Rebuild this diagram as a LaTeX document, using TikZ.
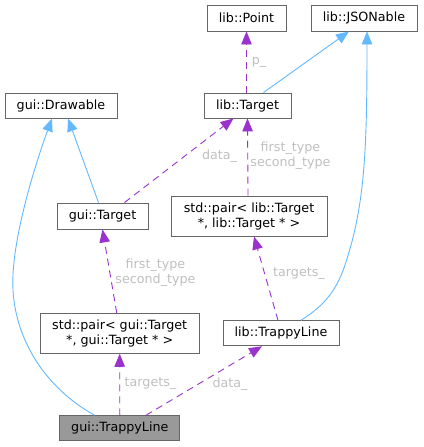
\documentclass[tikz,border=0pt]{standalone}
\usepackage{fontspec}
\setmainfont{DejaVu Sans}
\usetikzlibrary{arrows.meta}
\definecolor{edgeblue}{HTML}{63B8FF}
\definecolor{edgepurple}{HTML}{9A32CD}
\definecolor{boxborder}{HTML}{666666}
\definecolor{lblgray}{HTML}{BFBFBF}
\definecolor{curfill}{HTML}{999999}
\begin{document}
\begin{tikzpicture}[x=1pt,y=-1pt,
  cls/.style={draw=boxborder, line width=0.9pt, fill=white, inner sep=0pt,
    font=\fontsize{12.7}{15}\selectfont, align=center},
  lbl/.style={text=lblgray, inner sep=0pt, font=\fontsize{12.7}{15}\selectfont, align=center},
  inh/.style={draw=edgeblue, line width=0.9pt, -{Triangle[length=13pt,width=10.5pt]}},
  use/.style={draw=edgepurple, line width=0.9pt, dash pattern=on 7pt off 5pt,
    -{Triangle[length=13pt,width=10.5pt]}}]
\useasboundingbox (0,0) rectangle (423,447);
% nodes
\node[cls, minimum width=79pt, minimum height=26pt] (pt) at (246.5,18) {lib::Point};
\node[cls, minimum width=106pt, minimum height=26pt] (js) at (364,18) {lib::JSONable};
\node[cls, minimum width=112pt, minimum height=25pt] (gd) at (61,105.5) {gui::Drawable};
\node[cls, minimum width=87pt, minimum height=25pt] (lt) at (247.5,105.5) {lib::Target};
\node[cls, minimum width=91pt, minimum height=26pt] (gt) at (102.5,216) {gui::Target};
\node[cls, minimum width=156pt, minimum height=40pt] (pl) at (249,216) {std::pair< lib::Target\\ *, lib::Target * >};
\node[cls, minimum width=159pt, minimum height=40pt] (pg) at (119.7,333.3) {std::pair< gui::Target\\ *, gui::Target * >};
\node[cls, minimum width=116pt, minimum height=25pt] (ltl) at (281,333.3) {lib::TrappyLine};
\node[cls, fill=curfill, minimum width=120pt, minimum height=25pt] (gtl) at (119.8,428.3) {gui::TrappyLine};
% edges
\draw[use] ([xshift=-1pt]lt.north) -- (pt.south);
\draw[inh] ([xshift=16pt]lt.north) -- ([xshift=-15pt]js.south);
\draw[inh] ([xshift=-4pt]gt.north) -- ([xshift=7pt]gd.south);
\draw[inh] ([xshift=-25pt]gtl.north) .. controls (40,385) and (10,330) .. (13,275)
  .. controls (15,230) and (35,165) .. ([xshift=-9pt]gd.south);
\draw[use] ([xshift=22pt]gt.north) -- ([xshift=-14pt]lt.south);
\draw[use] ([xshift=-1pt]pl.north) -- (lt.south);
\draw[inh] ([xshift=20pt]ltl.north) .. controls (320,308) and (335,295) .. (345,265)
  .. controls (365,205) and (367,150) .. ([xshift=3pt]js.south);
\draw[use] ([xshift=-3pt]pg.north) -- (gt.south);
\draw[use] ([xshift=-3pt]ltl.north) -- ([xshift=5pt]pl.south);
\draw[use] (gtl.north) -- (pg.south);
\draw[use] ([xshift=26pt]gtl.north) -- ([xshift=-19pt]ltl.south);
% labels
\node[lbl] (l1) at (259,62) {p\_};
\node[lbl] (l2) at (219.5,156) {data\_};
\node[lbl] (l3) at (290.5,156) {first\_type\\second\_type};
\node[lbl] (l4) at (155.5,273) {first\_type\\second\_type};
\node[lbl] (l5) at (299,274) {targets\_};
\node[lbl] (l6) at (150.5,384) {targets\_};
\node[lbl] (l7) at (230,384) {data\_};
\end{tikzpicture}
\end{document}
